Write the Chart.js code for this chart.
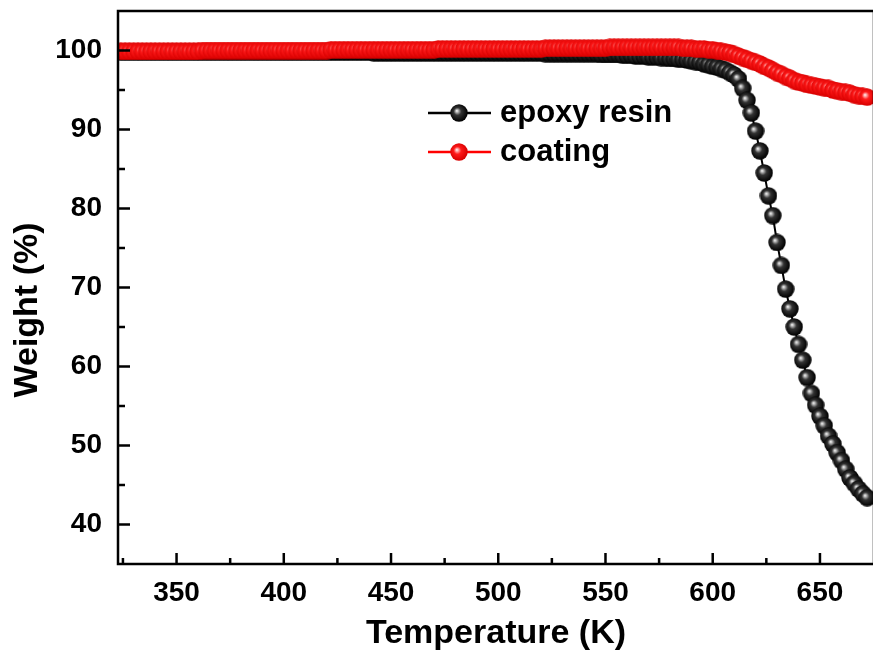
<!DOCTYPE html>
<html><head><meta charset="utf-8">
<script src="https://cdn.jsdelivr.net/npm/chart.js@4"></script>
<style>
html,body{margin:0;padding:0;background:#fff;}
#wrap{width:873px;height:657px;overflow:hidden;position:relative;background:#fff;}
canvas{display:block;}
</style></head>
<body><div id="wrap"><canvas id="c" width="885" height="657"></canvas></div>
<script>
const temps = [
324,326,328,330,332,334,336,338,340,342,
344,346,348,350,352,354,356,358,360,362,
364,366,368,370,372,374,376,378,380,382,
384,386,388,390,392,394,396,398,400,402,
404,406,408,410,412,414,416,418,420,422,
424,426,428,430,432,434,436,438,440,442,
444,446,448,450,452,454,456,458,460,462,
464,466,468,470,472,474,476,478,480,482,
484,486,488,490,492,494,496,498,500,502,
504,506,508,510,512,514,516,518,520,522,
524,526,528,530,532,534,536,538,540,542,
544,546,548,550,552,554,556,558,560,562,
564,566,568,570,572,574,576,578,580,582,
584,586,588,590,592,594,596,598,600,602,
604,606,608,610,612,614,616,618,620,622,
624,626,628,630,632,634,636,638,640,642,
644,646,648,650,652,654,656,658,660,662,
664,666,668,670,672];

const epoxyResin = [
99.8,99.8,99.8,99.8,99.8,99.8,99.8,99.8,99.8,99.8,
99.8,99.8,99.8,99.8,99.8,99.8,99.8,99.8,99.8,99.8,
99.8,99.8,99.8,99.8,99.8,99.8,99.8,99.8,99.8,99.8,
99.8,99.8,99.8,99.8,99.8,99.8,99.8,99.8,99.8,99.8,
99.8,99.8,99.8,99.8,99.8,99.8,99.8,99.8,99.8,99.8,
99.8,99.8,99.8,99.8,99.8,99.8,99.8,99.8,99.8,99.7,
99.7,99.7,99.7,99.7,99.7,99.7,99.7,99.7,99.7,99.7,
99.7,99.7,99.7,99.7,99.7,99.7,99.7,99.7,99.7,99.7,
99.7,99.7,99.7,99.7,99.7,99.7,99.7,99.7,99.7,99.7,
99.7,99.7,99.7,99.7,99.7,99.7,99.7,99.7,99.7,99.6,
99.6,99.6,99.6,99.6,99.6,99.6,99.6,99.6,99.6,99.6,
99.6,99.6,99.5,99.5,99.5,99.5,99.5,99.4,99.4,99.4,
99.3,99.3,99.3,99.2,99.2,99.2,99.1,99.1,99.0,99.0,
98.9,98.9,98.8,98.7,98.6,98.5,98.3,98.2,98.0,97.9,
97.7,97.5,97.2,96.9,96.4,95.2,93.7,92.1,89.8,87.3,
84.5,81.6,79.1,75.7,72.8,69.8,67.3,65.0,62.8,60.8,
58.6,56.6,55.1,53.7,52.5,51.2,50.2,49.1,48.1,47.0,
45.9,45.2,44.5,43.9,43.4];

const coating = [
99.9,99.9,99.9,99.9,99.9,99.9,99.9,99.9,99.9,99.9,
99.9,99.9,99.9,99.9,99.9,99.9,99.9,99.9,99.9,100.0,
100.0,100.0,100.0,100.0,100.0,100.0,100.0,100.0,100.0,100.0,
100.0,100.0,100.0,100.0,100.0,100.0,100.0,100.0,100.0,100.0,
100.0,100.0,100.0,100.0,100.0,100.0,100.0,100.0,100.0,100.1,
100.1,100.1,100.1,100.1,100.1,100.1,100.1,100.1,100.1,100.1,
100.1,100.1,100.1,100.1,100.1,100.1,100.1,100.1,100.1,100.1,
100.1,100.1,100.1,100.1,100.2,100.2,100.2,100.2,100.2,100.2,
100.2,100.2,100.2,100.2,100.2,100.2,100.2,100.2,100.2,100.2,
100.2,100.2,100.2,100.2,100.2,100.2,100.2,100.2,100.2,100.3,
100.3,100.3,100.3,100.3,100.3,100.3,100.3,100.3,100.3,100.3,
100.3,100.3,100.3,100.3,100.4,100.4,100.4,100.4,100.4,100.4,
100.4,100.4,100.4,100.4,100.4,100.4,100.4,100.4,100.4,100.4,
100.4,100.3,100.3,100.3,100.2,100.2,100.2,100.1,100.1,100.0,
99.9,99.8,99.7,99.5,99.3,99.1,98.9,98.7,98.5,98.3,
98.0,97.8,97.5,97.2,97.0,96.7,96.5,96.2,96.0,95.9,
95.7,95.6,95.5,95.4,95.3,95.2,95.0,94.9,94.8,94.7,
94.6,94.4,94.3,94.2,94.1];

const seriesNames = ['epoxy resin', 'coating'];
const xMajorTicks = [350, 400, 450, 500, 550, 600, 650];
const xMinorTicks = [325, 375, 425, 475, 525, 575, 625];
const yMajorTicks = [40, 50, 60, 70, 80, 90, 100];
const yMinorTicks = [45, 55, 65, 75, 85, 95];
const xTitle = 'Temperature (K)';
const yTitle = 'Weight (%)';

const FONT = "'Liberation Sans', Arial, sans-serif";

function sphere(hi, mid, base) {
  const c = document.createElement('canvas');
  c.width = 18; c.height = 18;
  const g = c.getContext('2d');
  const grd = g.createRadialGradient(6.8, 6.8, 0.3, 8.5, 8.5, 9);
  grd.addColorStop(0, hi);
  grd.addColorStop(0.4, mid);
  grd.addColorStop(1, base);
  g.fillStyle = grd;
  g.beginPath(); g.arc(9, 9, 8.7, 0, Math.PI * 2); g.fill();
  return c;
}
const blackBall = sphere('#f2f2f2', '#333333', '#000000');
const redBall = sphere('#ffeaea', '#ff1a1a', '#d80000');

const framePlugin = {
  id: 'frame',
  afterDatasetsDraw(chart) {
    const {ctx, chartArea: a, scales: {x, y}} = chart;
    ctx.save();
    ctx.strokeStyle = '#000';
    ctx.lineWidth = 2.5;
    ctx.strokeRect(a.left, a.top, a.right - a.left, a.bottom - a.top);
    ctx.beginPath();
    xMajorTicks.forEach(v => { const p = x.getPixelForValue(v); ctx.moveTo(p, a.bottom); ctx.lineTo(p, a.bottom - 11); });
    xMinorTicks.forEach(v => { const p = x.getPixelForValue(v); ctx.moveTo(p, a.bottom); ctx.lineTo(p, a.bottom - 6); });
    yMajorTicks.forEach(v => { const p = y.getPixelForValue(v); ctx.moveTo(a.left, p); ctx.lineTo(a.left + 12, p); });
    yMinorTicks.forEach(v => { const p = y.getPixelForValue(v); ctx.moveTo(a.left, p); ctx.lineTo(a.left + 7, p); });
    ctx.stroke();

    // y axis title
    ctx.fillStyle = '#000';
    ctx.font = 'bold 34px ' + FONT;
    ctx.textAlign = 'center';
    ctx.textBaseline = 'middle';
    ctx.translate(28, 310);
    ctx.rotate(-Math.PI / 2);
    ctx.fillText(yTitle, 0, 0);
    ctx.restore();

    // legend
    ctx.save();
    const rows = [
      {name: seriesNames[0], color: '#000', ball: blackBall, y: 113},
      {name: seriesNames[1], color: '#f00', ball: redBall, y: 152}
    ];
    ctx.font = 'bold 31px ' + FONT;
    ctx.textAlign = 'left';
    ctx.textBaseline = 'alphabetic';
    rows.forEach(r => {
      ctx.strokeStyle = r.color;
      ctx.lineWidth = 2.5;
      ctx.beginPath(); ctx.moveTo(428, r.y); ctx.lineTo(491, r.y); ctx.stroke();
      ctx.drawImage(r.ball, 459 - 9, r.y - 9);
      ctx.fillStyle = '#000';
      ctx.fillText(r.name, 500, r.y + 9);
    });
    ctx.restore();
  }
};

new Chart(document.getElementById('c'), {
  type: 'line',
  data: {
    datasets: [
      {
        label: seriesNames[0],
        data: temps.map((t, i) => ({x: t, y: epoxyResin[i]})),
        borderColor: '#000', borderWidth: 2,
        pointStyle: blackBall, pointRadius: 9, pointHoverRadius: 9,
        order: 1, tension: 0
      },
      {
        label: seriesNames[1],
        data: temps.map((t, i) => ({x: t, y: coating[i]})),
        borderColor: '#f00', borderWidth: 2,
        pointStyle: redBall, pointRadius: 9, pointHoverRadius: 9,
        order: 0, tension: 0
      }
    ]
  },
  options: {
    responsive: false,
    animation: false,
    devicePixelRatio: 1,
    layout: {padding: {top: 8, right: 2, left: 0, bottom: 0}},
    plugins: {legend: {display: false}, tooltip: {enabled: false}},
    events: [],
    scales: {
      x: {
        type: 'linear', min: 322.7, max: 675.2,
        grid: {display: false, drawTicks: false}, border: {display: false},
        afterBuildTicks: s => { s.ticks = xMajorTicks.map(v => ({value: v})); },
        afterFit: s => { s.height = 93; s.paddingLeft = 0; s.paddingRight = 0; },
        ticks: {padding: 12, color: '#000', maxRotation: 0, autoSkip: false,
          font: {family: FONT, size: 28, weight: 'bold'}},
        title: {display: true, text: xTitle, color: '#000',
          font: {family: FONT, size: 34, weight: 'bold'}, padding: {top: 0, bottom: 3}}
      },
      y: {
        type: 'linear', min: 35, max: 105,
        grid: {display: false, drawTicks: false}, border: {display: false},
        afterBuildTicks: s => { s.ticks = yMajorTicks.map(v => ({value: v})); },
        afterFit: s => { s.width = 118; s.paddingTop = 0; s.paddingBottom = 0; },
        ticks: {padding: 16, color: '#000',
          font: {family: FONT, size: 28, weight: 'bold'}}
      }
    }
  },
  plugins: [framePlugin]
});
</script>
</body></html>
